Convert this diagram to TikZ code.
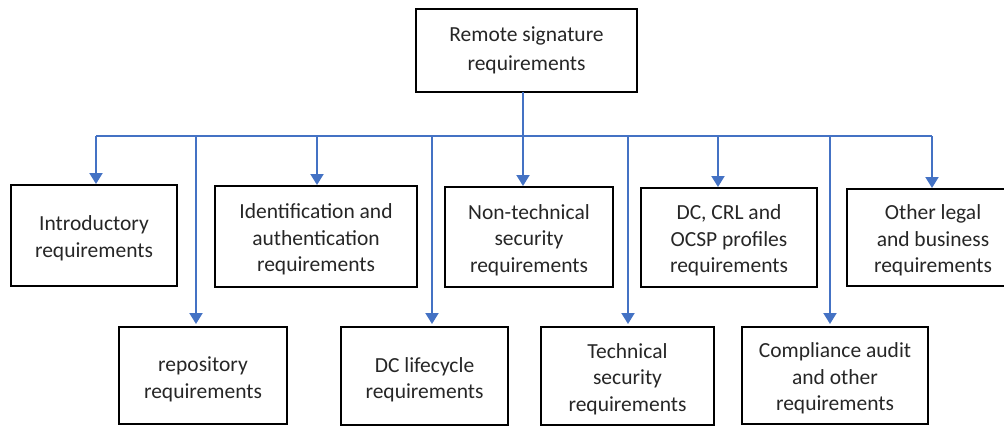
\documentclass[tikz,border=0pt]{standalone}
\usepackage{fontspec}
\setmainfont{Carlito}
\usetikzlibrary{arrows.meta}
\definecolor{conn}{HTML}{4472C4}
\definecolor{txt}{HTML}{262626}
\begin{document}
\begin{tikzpicture}[x=1pt,y=-1pt,
 frame/.style={draw=black, line width=2pt, inner sep=0pt},
 lbl/.style={align=center, inner sep=0pt, yshift=-3pt,
   font=\fontsize{21.5}{26.5}\selectfont, text=txt},
 link/.style={draw=conn, line width=2pt},
 arr/.style={link, -{Triangle[width=13pt,length=11pt]}}]
\useasboundingbox (0,0) rectangle (1004,426);
% boxes
\node[frame, minimum width=221pt, minimum height=83pt] (top) at (526.5,50.5) {};
\node[lbl, yshift=3pt, font=\fontsize{21.5}{29.5}\selectfont] (topt) at (top.center) {Remote signature\\requirements};
\node[frame, minimum width=166pt, minimum height=101pt] (intro) at (94,235.5) {};
\node[lbl] (introt) at (intro.center) {Introductory\\requirements};
\node[frame, minimum width=202pt, minimum height=101pt] (ident) at (316,236.5) {};
\node[lbl] (identt) at (ident.center) {Identification and\\authentication\\requirements};
\node[frame, minimum width=168pt, minimum height=100pt] (nontech) at (529,237) {};
\node[lbl] (nontecht) at (nontech.center) {Non-technical\\security\\requirements};
\node[frame, minimum width=176pt, minimum height=99pt] (dccrl) at (729,237.5) {};
\node[lbl] (dccrlt) at (dccrl.center) {DC, CRL and\\OCSP profiles\\requirements};
\node[frame, minimum width=172pt, minimum height=97pt] (other) at (933,237.5) {};
\node[lbl] (othert) at (other.center) {Other legal\\and business\\requirements};
\node[frame, minimum width=168pt, minimum height=97pt] (repo) at (203,375.5) {};
\node[lbl, yshift=-1pt] (repot) at (repo.center) {repository\\requirements};
\node[frame, minimum width=167pt, minimum height=98pt] (dclife) at (424.5,376) {};
\node[lbl, yshift=-1pt] (dclifet) at (dclife.center) {DC lifecycle\\requirements};
\node[frame, minimum width=173pt, minimum height=98pt] (tech) at (627.5,376) {};
\node[lbl] (techt) at (tech.center) {Technical\\security\\requirements};
\node[frame, minimum width=186pt, minimum height=97pt] (compl) at (835,375.5) {};
\node[lbl] (complt) at (compl.center) {Compliance audit\\and other\\requirements};
% bus
\coordinate (root) at (523,92);
\coordinate (hub) at (523,136);
\coordinate (b1) at (96,136);
\coordinate (b2) at (196,136);
\coordinate (b3) at (317,136);
\coordinate (b4) at (432,136);
\coordinate (b5) at (628,136);
\coordinate (b6) at (718,136);
\coordinate (b7) at (830,136);
\coordinate (b8) at (932,136);
\draw[link] (root) -- (hub);
\draw[link] (b1) -- (b8);
\draw[arr] (b1) -- (b1 |- intro.north);
\draw[arr] (b3) -- (b3 |- ident.north);
\draw[arr] (hub) -- (hub |- nontech.north);
\draw[arr] (b6) -- (b6 |- dccrl.north);
\draw[arr] (b8) -- (b8 |- other.north);
\draw[arr] (b2) -- ([yshift=2pt]b2 |- repo.north);
\draw[arr] (b4) -- ([yshift=2pt]b4 |- dclife.north);
\draw[arr] (b5) -- ([yshift=2pt]b5 |- tech.north);
\draw[arr] (b7) -- ([yshift=2pt]b7 |- compl.north);
\end{tikzpicture}
\end{document}
